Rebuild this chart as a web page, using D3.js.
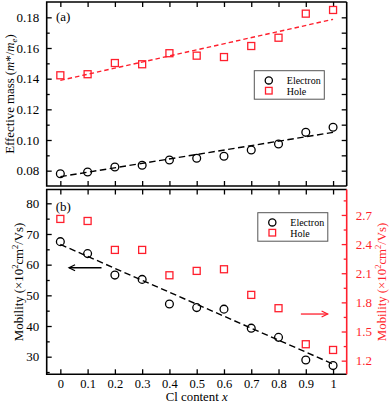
<!DOCTYPE html>
<html><head><meta charset="utf-8">
<script src="https://cdn.jsdelivr.net/npm/d3@7"></script>
<style>body{margin:0;background:#fff}svg{display:block}</style>
</head><body>
<svg id="c" width="390" height="404" font-family="Liberation Serif, serif"></svg>
<script>
const clContent = [0,0.1,0.2,0.3,0.4,0.5,0.6,0.7,0.8,0.9,1.0];
const massElectron = [0.078,0.0791,0.0824,0.0835,0.087,0.0881,0.0894,0.0935,0.0974,0.105,0.1083];
const massHole = [0.1422,0.1429,0.1502,0.1494,0.1566,0.155,0.1541,0.1613,0.1667,0.1824,0.1848];
const massElectronFit = [0.0761,0.105];
const massHoleFit = [0.1389,0.1787];
const mobElectron = [67.5,63.6,56.6,55.2,47.2,46.0,45.5,39.3,36.3,28.9,27.1];
const mobHole = [2.659,2.638,2.34,2.34,2.079,2.124,2.141,1.877,1.74,1.369,1.31];
const mobElectronFit = [66.6,27.6];
const mobHoleFit = [2.708,1.403];
const xTicks = [0,0.1,0.2,0.3,0.4,0.5,0.6,0.7,0.8,0.9,1];
const massTicks = [0.08,0.10,0.12,0.14,0.16,0.18];
const mobTicks = [30,40,50,60,70,80];
const mobHoleTicks = [1.2,1.5,1.8,2.1,2.4,2.7];
const legendLabels = ["Electron","Hole"];

const RED = "#ff1f2d";
const FONT = "Liberation Serif, serif";
const svg = d3.select("#c");
const x = d3.scaleLinear().domain([-0.05,1.05]).range([46.7,346.7]);
const yA = d3.scaleLinear().domain([0.07,0.19]).range([186,2]);
const yB = d3.scaleLinear().domain([24.26,84.5]).range([374.3,189.5]);
const yR = d3.scaleLinear().domain([1.0595,2.962]).range([374.3,189.5]);

function fmtX(d){return d===0?"0":d===1?"1":d3.format(".1f")(d);}
function styleAxis(g, color, fs){
  g.attr("font-family",FONT);
  g.select(".domain").remove();
  g.selectAll("line").attr("stroke",color).attr("stroke-width",1.3);
  g.selectAll("text").attr("font-size",fs||13).attr("fill",color).attr("font-family",FONT);
}

function frame(y, rightColor){
  const [y0,y1] = y.range();
  const [x0,x1] = x.range();
  svg.append("g").attr("transform",`translate(0,${y0})`)
    .call(d3.axisBottom(x).tickValues(xTicks).tickSize(-5).tickFormat(""))
    .call(g=>styleAxis(g,"#000"));
  svg.append("g").attr("transform",`translate(0,${y1})`)
    .call(d3.axisTop(x).tickValues(xTicks).tickSize(-5).tickFormat(""))
    .call(g=>styleAxis(g,"#000"));
  svg.append("path").attr("d",`M${x1},${y1}H${x0}V${y0}H${x1}`).attr("fill","none").attr("stroke","#000").attr("stroke-width",1.6);
  svg.append("line").attr("x1",x1).attr("x2",x1).attr("y1",y1).attr("y2",y0).attr("stroke",rightColor).attr("stroke-width",1.6);
}

function leftAxis(y, major, minorStep, fmt){
  const dom = y.domain();
  const minor = d3.range(Math.ceil(dom[0]/minorStep)*minorStep, dom[1], minorStep).filter(v=>!major.some(m=>Math.abs(m-v)<1e-9) && Math.abs(y(v)-y.range()[0])>1.5 && Math.abs(y(v)-y.range()[1])>1.5);
  svg.append("g").attr("transform",`translate(${x.range()[0]},0)`)
    .call(d3.axisLeft(y).tickValues(major).tickSize(-5).tickPadding(7.5).tickFormat(fmt))
    .call(g=>styleAxis(g,"#000"));
  svg.append("g").attr("transform",`translate(${x.range()[0]},0)`)
    .call(d3.axisLeft(y).tickValues(minor).tickSize(-3).tickFormat(""))
    .call(g=>styleAxis(g,"#000"));
}

// ===== Panel (a)
frame(yA,"#000");
leftAxis(yA, massTicks, 0.01, d3.format(".2f"));
svg.append("g").attr("transform",`translate(${x.range()[1]},0)`)
  .call(d3.axisRight(yA).tickValues(d3.range(0.08,0.1801,0.01)).tickSize(-5).tickFormat(""))
  .call(g=>styleAxis(g,"#000"));

// ===== Panel (b)
frame(yB,RED);
leftAxis(yB, mobTicks, 5, d3.format("d"));
const rMinor = d3.range(1.2,2.9,0.15).filter(v=>!mobHoleTicks.some(m=>Math.abs(m-v)<1e-6));
svg.append("g").attr("transform",`translate(${x.range()[1]},0)`)
  .call(d3.axisRight(yR).tickValues(mobHoleTicks).tickSize(-5).tickPadding(9).tickFormat(d3.format(".1f")))
  .call(g=>styleAxis(g,RED));
svg.append("g").attr("transform",`translate(${x.range()[1]},0)`)
  .call(d3.axisRight(yR).tickValues(rMinor).tickSize(-3).tickFormat(""))
  .call(g=>styleAxis(g,RED));
svg.append("g").attr("transform",`translate(0,${yB.range()[0]})`)
  .call(d3.axisBottom(x).tickValues(xTicks).tickSize(0).tickPadding(5).tickFormat(fmtX))
  .call(g=>styleAxis(g,"#000",12.5));

// ===== Fit lines
function fit(y, vals, color, dash){
  svg.append("line").attr("x1",x(0)).attr("x2",x(1)).attr("y1",y(vals[0])).attr("y2",y(vals[1]))
    .attr("stroke",color).attr("stroke-width",1.4).attr("stroke-dasharray",dash);
}
fit(yA, massHoleFit, RED, "4.5,3");
fit(yA, massElectronFit, "#000", "6.5,3.5");
fit(yB, mobHoleFit, RED, "4.5,3");
fit(yB, mobElectronFit, "#000", "6.5,3.5");

// ===== markers
function circles(y, vals){
  svg.append("g").selectAll("circle").data(vals).join("circle")
    .attr("cx",(d,i)=>x(clContent[i])).attr("cy",d=>y(d)).attr("r",3.9)
    .attr("fill","none").attr("stroke","#000").attr("stroke-width",1.3);
}
function squares(y, vals){
  const s=7;
  svg.append("g").selectAll("rect").data(vals).join("rect")
    .attr("x",(d,i)=>x(clContent[i])-s/2).attr("y",d=>y(d)-s/2).attr("width",s).attr("height",s)
    .attr("fill","none").attr("stroke",RED).attr("stroke-width",1.3);
}
squares(yA, massHole); circles(yA, massElectron);
squares(yR, mobHole); circles(yB, mobElectron);

// ===== Legends
function legend(x0,y0){
  svg.append("rect").attr("x",x0).attr("y",y0).attr("width",70).attr("height",28.5)
    .attr("fill","#fff").attr("stroke","#555").attr("stroke-width",1);
  svg.append("circle").attr("cx",x0+14.5).attr("cy",y0+9.7).attr("r",3.6).attr("fill","none").attr("stroke","#000").attr("stroke-width",1.3);
  svg.append("rect").attr("x",x0+14.5-3.3).attr("y",y0+20-3.3).attr("width",6.6).attr("height",6.6).attr("fill","none").attr("stroke",RED).attr("stroke-width",1.3);
  legendLabels.forEach((t,i)=>svg.append("text").attr("x",x0+32.5).attr("y",y0+13.3+i*10.6).attr("font-size",10).attr("font-family",FONT).text(t));
}
legend(254.3,70.7);
legend(257.8,212.7);

// ===== Panel labels
svg.append("text").attr("x",56).attr("y",20.5).attr("font-size",13).attr("font-family",FONT).text("(a)");
svg.append("text").attr("x",55.7).attr("y",211).attr("font-size",13).attr("font-family",FONT).text("(b)");

// ===== Arrows
function arrow(xa,xb,yy,color){
  const x1=x(xa), x2=x(xb), d=Math.sign(x2-x1);
  svg.append("line").attr("x1",x1).attr("x2",x2).attr("y1",yy).attr("y2",yy).attr("stroke",color).attr("stroke-width",1.3);
  svg.append("path").attr("d",`M${x2-d*6},${yy-3}L${x2},${yy}L${x2-d*6},${yy+3}`).attr("fill","none").attr("stroke",color).attr("stroke-width",1.3);
}
arrow(0.151,0.032,yB(59.0),"#000");
arrow(0.882,0.98,yR(1.68),RED);

// ===== Axis titles
const tA = svg.append("text").attr("transform",`translate(13.5,${(yA.range()[0]+yA.range()[1])/2}) rotate(-90)`)
  .attr("text-anchor","middle").attr("font-size",12.8).attr("font-family",FONT);
tA.append("tspan").text("Effective mass (");
tA.append("tspan").attr("font-style","italic").text("m");
tA.append("tspan").text("*/");
tA.append("tspan").attr("font-style","italic").text("m");
tA.append("tspan").attr("font-style","italic").attr("font-size",9).attr("dy",3).text("e");
tA.append("tspan").attr("dy",-3).text(")");

function mobLabel(xx, color){
  const t = svg.append("text").attr("transform",`translate(${xx},${(yB.range()[0]+yB.range()[1])/2}) rotate(-90)`)
    .attr("text-anchor","middle").attr("font-size",12.8).attr("fill",color).attr("font-family",FONT);
  t.append("tspan").text("Mobility (×10");
  t.append("tspan").attr("font-size",8.5).attr("dy",-5).text("2");
  t.append("tspan").attr("dy",5).text("cm");
  t.append("tspan").attr("font-size",8.5).attr("dy",-5).text("2");
  t.append("tspan").attr("dy",5).text("/Vs)");
}
mobLabel(23, "#000");
mobLabel(385.5, RED);

const xl = svg.append("text").attr("x",x(0.5)).attr("y",401).attr("text-anchor","middle").attr("font-size",12.8).attr("font-family",FONT);
xl.append("tspan").text("Cl content ");
xl.append("tspan").attr("font-style","italic").text("x");
</script>
</body></html>
